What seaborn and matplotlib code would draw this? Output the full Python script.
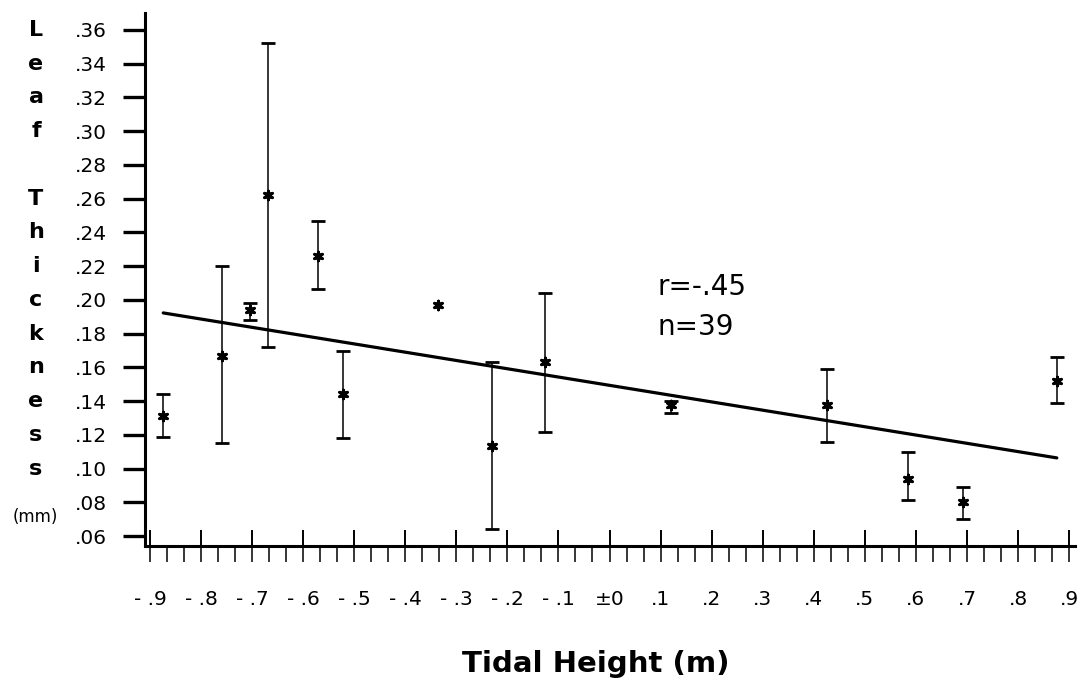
import numpy as np
import matplotlib
matplotlib.use("Agg")
import matplotlib.pyplot as plt
import matplotlib.transforms as mtransforms
from matplotlib.ticker import FixedLocator
import seaborn as sns
import pandas as pd

# ---- data ----
tidal_height = [-0.874, -0.759, -0.704, -0.669, -0.571, -0.522, -0.336,
                -0.230, -0.126, 0.120, 0.426, 0.585, 0.692, 0.876]
leaf_mean = [0.131, 0.167, 0.194, 0.262, 0.226, 0.144, 0.197,
             0.1135, 0.163, 0.1378, 0.138, 0.094, 0.080, 0.152]
err_top = [0.144, 0.220, 0.198, 0.352, 0.247, 0.170, np.nan,
           0.163, 0.204, 0.140, 0.159, 0.110, 0.089, 0.166]
err_bottom = [0.119, 0.115, 0.188, 0.172, 0.2065, 0.118, np.nan,
              0.064, 0.122, 0.133, 0.116, 0.0815, 0.070, 0.139]

fit_x = [-0.874, 0.876]
fit_y = [0.1923, 0.1064]

x_tick_values = [-0.9, -0.8, -0.7, -0.6, -0.5, -0.4, -0.3, -0.2, -0.1, 0.0,
                 0.1, 0.2, 0.3, 0.4, 0.5, 0.6, 0.7, 0.8, 0.9]
x_tick_labels = ["- .9", "- .8", "- .7", "- .6", "- .5", "- .4", "- .3", "- .2",
                 "- .1", "±0", ".1", ".2", ".3", ".4", ".5", ".6", ".7", ".8", ".9"]
y_tick_values = [0.06, 0.08, 0.10, 0.12, 0.14, 0.16, 0.18, 0.20, 0.22, 0.24,
                 0.26, 0.28, 0.30, 0.32, 0.34, 0.36]
y_tick_labels = [".06", ".08", ".10", ".12", ".14", ".16", ".18", ".20", ".22",
                 ".24", ".26", ".28", ".30", ".32", ".34", ".36"]
ylabel_letters = ["L", "e", "a", "f", "", "T", "h", "i", "c", "k", "n", "e", "s", "s"]
ylabel_letter_y = [0.36, 0.34, 0.32, 0.30, 0.28, 0.26, 0.24, 0.22, 0.20, 0.18,
                   0.16, 0.14, 0.12, 0.10]
ylabel_unit = "(mm)"
xlabel_text = "Tidal Height (m)"
stats_text = ["r=-.45", "n=39"]

df = pd.DataFrame({"x": tidal_height, "y": leaf_mean,
                   "top": err_top, "bottom": err_bottom})

# ---- style ----
sns.set_style("white")
plt.rcParams["font.family"] = ["DejaVu Sans"]

W, H = 1078, 684
fig = plt.figure(figsize=(W / 100, H / 100), dpi=100)
ax = fig.add_axes([145 / W, 1 - 546 / H, (1075 - 145) / W, (546 - 13) / H])

# error bars
eb = df.dropna()
ax.errorbar(eb["x"], eb["y"],
            yerr=[eb["y"] - eb["bottom"], eb["top"] - eb["y"]],
            fmt="none", ecolor="black", elinewidth=1.1, capsize=4.7,
            capthick=2.0, zorder=2)

# regression line
sns.lineplot(x=fit_x, y=fit_y, color="black", linewidth=2.3, ax=ax,
             zorder=3, legend=False)

# asterisk points
ax.scatter(df["x"], df["y"], marker=(6, 2, 0), s=38, color="black",
           linewidths=2.2, zorder=4)

ax.set_xlim(-0.9097, 0.9116)
ax.set_ylim(0.0542, 0.370)

# axes / spines
for s in ["top", "right"]:
    ax.spines[s].set_visible(False)
for s in ["left", "bottom"]:
    ax.spines[s].set_linewidth(2.2)
    ax.spines[s].set_color("black")

ax.xaxis.remove_overlapping_locs = False
ax.xaxis.set_major_locator(FixedLocator(x_tick_values))
ax.set_xticklabels(x_tick_labels)
ax.xaxis.set_minor_locator(FixedLocator(np.linspace(-0.9, 0.9, 55)))
ax.tick_params(axis="x", which="both", bottom=True, top=False)
ax.tick_params(axis="y", which="both", left=True, right=False)
ax.tick_params(axis="x", which="major", direction="in", length=11.5, width=1.4,
               pad=32, labelsize=14.5, color="black")
ax.tick_params(axis="x", which="minor", direction="out", length=11.5, width=1.1,
               color="black")
ax.set_yticks(y_tick_values)
ax.set_yticklabels(y_tick_labels)
ax.tick_params(axis="y", which="major", direction="out", length=16, width=2.4,
               pad=11.4, labelsize=14.5, color="black")
for lab in ax.get_xticklabels() + ax.get_yticklabels():
    lab.set_color("black")

# x label
ax.set_xlabel(xlabel_text, fontsize=21, fontweight="bold", color="black")
ax.xaxis.label.set_va("baseline")
ax.xaxis.set_label_coords(0.485, (546 - 672) / (546 - 13))

# stacked y label
trans = mtransforms.blended_transform_factory(fig.transFigure, ax.transData)
for letter, yv in zip(ylabel_letters, ylabel_letter_y):
    if letter:
        ax.text(36 / W, yv, letter, transform=trans, ha="center", va="center",
                fontsize=16, fontweight="bold", color="black", clip_on=False)
ax.text(35 / W, 0.0715, ylabel_unit, transform=trans, ha="center", va="center",
        fontsize=12, color="black", clip_on=False)

# r and n annotation
ax.text(0.093, 0.203, stats_text[0], fontsize=20,
        ha="left", va="baseline", color="black")
ax.text(0.093, 0.1793, stats_text[1], fontsize=20,
        ha="left", va="baseline", color="black")

fig.savefig("out.png", dpi=100, facecolor="white")
